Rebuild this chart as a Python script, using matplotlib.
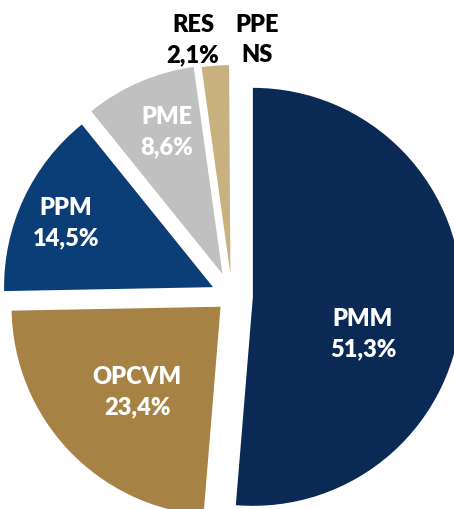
import matplotlib
matplotlib.use("Agg")
import matplotlib.pyplot as plt

categories = ["PMM", "OPCVM", "PPM", "PME", "RES", "PPE"]
values = [51.3, 23.4, 14.5, 8.6, 2.1, 0.1]
value_labels = ["51,3%", "23,4%", "14,5%", "8,6%", "2,1%", "NS"]
colors = ["#0a2a55", "#a68344", "#0b3e76", "#c0c0c0", "#c8b07f", "#ffffff"]
explode = [0.10, 0.075, 0.10, 0.115, 0.105, 0.105]

W, H = 454, 510
fig = plt.figure(figsize=(W / 100, H / 100), dpi=100)
ax = fig.add_axes([0, 0, 1, 1])

R = 209.0
cx, cy = 232.0, 297.0  # pixel centre of the pie (from top-left)

ax.pie(values, colors=colors, explode=explode, startangle=90, counterclock=False,
       radius=1.0, wedgeprops=dict(linewidth=0))
ax.set_aspect("equal")
ax.set_xlim(-cx / R, (W - cx) / R)
ax.set_ylim(-(H - cy) / R, cy / R)
ax.axis("off")

def px(x, y):
    return ((x - cx) / R, (cy - y) / R)

font = dict(family=["Lato", "DejaVu Sans"], fontweight="heavy", fontsize=17,
            ha="center", va="center", linespacing=1.45)
inside = {"PMM": (363, 334), "OPCVM": (137, 392), "PPM": (66, 223), "PME": (167, 132)}
outside = {"RES": (193, 40), "PPE": (257, 40)}
for cat, lab in zip(categories, value_labels):
    if cat in inside:
        x, y = px(*inside[cat])
        ax.text(x, y, f"{cat}\n{lab}", color="white", **font)
    else:
        x, y = px(*outside[cat])
        ax.text(x, y, f"{cat}\n{lab}", color="black", **font)

fig.savefig("out.png", dpi=100)
